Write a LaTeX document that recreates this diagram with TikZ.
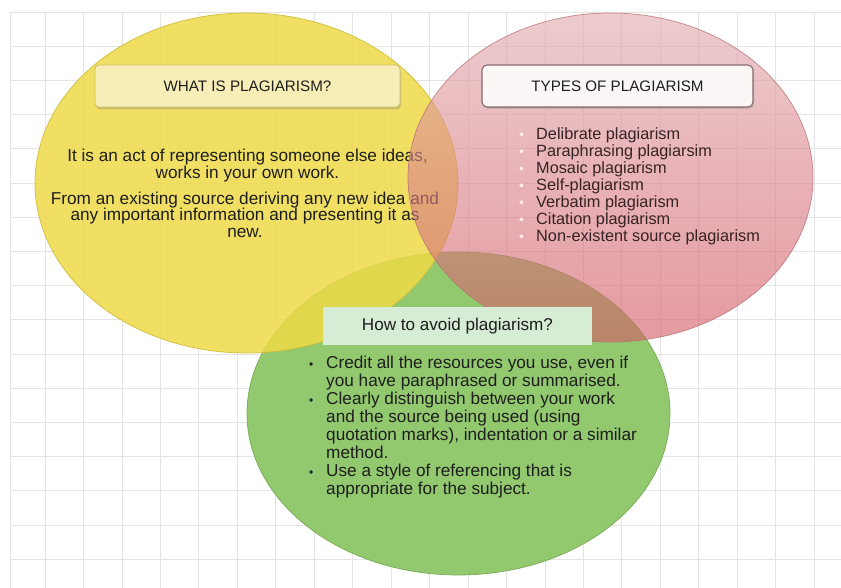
\documentclass[tikz,border=0pt]{standalone}
\usepackage{fontspec}
\setmainfont{Liberation Sans}
\usetikzlibrary{shapes.geometric,shadows}
\definecolor{gridc}{RGB}{228,228,228}
\definecolor{yel}{RGB}{238,218,72}
\definecolor{yell}{RGB}{210,190,60}
\definecolor{redt}{RGB}{226,172,176}
\definecolor{redb}{RGB}{212,92,102}
\definecolor{redl}{RGB}{185,110,116}
\definecolor{grn}{RGB}{146,200,110}
\definecolor{grnl}{RGB}{120,172,85}
\definecolor{ybox}{RGB}{247,237,182}
\definecolor{yboxl}{RGB}{205,190,100}
\definecolor{rbox}{RGB}{252,247,247}
\definecolor{rboxl}{RGB}{135,105,108}
\definecolor{gbox}{RGB}{214,236,212}
\definecolor{txt}{RGB}{30,30,30}
\definecolor{rtxt}{RGB}{55,35,35}
\newcommand\wbul{\makebox[17pt][l]{\hspace{0pt}{\fontsize{14}{17}\selectfont\textcolor{white!92!red}{•}}}}
\newcommand\kbul{\makebox[18pt][l]{\hspace{1pt}{\fontsize{12}{18}\selectfont •}}}
\newcommand\kgap{\makebox[18pt]{}}
\begin{document}
\begin{tikzpicture}[x=1pt,y=-1pt,
  venn/.style={ellipse, inner sep=0pt, line width=0.7pt},
  hdr/.style={inner sep=0pt, font=\fontsize{15.2}{17}\selectfont, text=txt},
  body/.style={inner sep=0pt, text=txt}]
\useasboundingbox (0,0) rectangle (841,588);
\fill[white] (0,0) rectangle (841,588);
% background grid
\foreach \k in {0,...,20} \draw[gridc, line width=0.7pt] ({45+38.45*\k},12) -- ({45+38.45*\k},588);
\draw[gridc, line width=0.7pt] (10,12) -- (10,588);
\foreach \k in {0,...,16} \draw[gridc, line width=0.7pt] (10,{12+34.2*\k}) -- (841,{12+34.2*\k});
% green circle
\node[venn, fill=grn, draw=grnl, minimum width=423pt, minimum height=323pt] (green) at (458.5,413.5) {};
% yellow circle
\node[venn, fill=yel, fill opacity=0.85, draw=yell, minimum width=423pt, minimum height=340pt] (yellow) at (246.5,183) {};
\node[hdr, draw=yboxl, fill=ybox, rounded corners=4pt, line width=0.8pt,
  minimum width=305pt, minimum height=42pt,
  drop shadow={opacity=0.35, shadow xshift=1pt, shadow yshift=-2.5pt}] (yhead) at (247.5,86) {WHAT IS PLAGIARISM?};
\node[body, align=center, anchor=north, font=\fontsize{17.2}{17.5}\selectfont] (ytext1) at (247.5,148.5)
  {It is an act of representing someone else ideas,\\works in your own work.};
\node[body, align=center, anchor=north, font=\fontsize{17.2}{16.5}\selectfont] (ytext2) at (245,191.8)
  {From an existing source deriving any new idea and\\any important information and presenting it as\\new.};
% red circle
\node[venn, top color=redt, bottom color=redb, fill opacity=0.62, draw=redl, draw opacity=0.8,
  minimum width=405pt, minimum height=329pt] (red) at (610.5,177.5) {};
\node[hdr, draw=rboxl, fill=rbox, rounded corners=5pt, line width=1.1pt,
  minimum width=271pt, minimum height=42pt,
  drop shadow={opacity=0.3, shadow xshift=1pt, shadow yshift=-2pt}] (rhead) at (617.5,86) {TYPES OF PLAGIARISM};
\node[body, text=rtxt, align=left, anchor=north west, font=\fontsize{16.3}{17}\selectfont] (rlist) at (519,127)
  {\wbul Delibrate plagiarism\\
   \wbul Paraphrasing plagiarsim\\
   \wbul Mosaic plagiarism\\
   \wbul Self-plagiarism\\
   \wbul Verbatim plagiarism\\
   \wbul Citation plagiarism\\
   \wbul Non-existent source plagiarism};
% green header and list
\node[hdr, fill=gbox, font=\fontsize{17.1}{18}\selectfont, minimum width=269pt, minimum height=38pt] (ghead) at (457.5,326) {How to avoid plagiarism?};
\node[body, align=left, anchor=north west, font=\fontsize{17.2}{18}\selectfont] (glist) at (308,355.6)
  {\kbul Credit all the resources you use, even if\\
   \kgap you have paraphrased or summarised.\\
   \kbul Clearly distinguish between your work\\
   \kgap and the source being used (using\\
   \kgap quotation marks), indentation or a similar\\
   \kgap method.\\
   \kbul Use a style of referencing that is\\
   \kgap appropriate for the subject.};
\end{tikzpicture}
\end{document}
